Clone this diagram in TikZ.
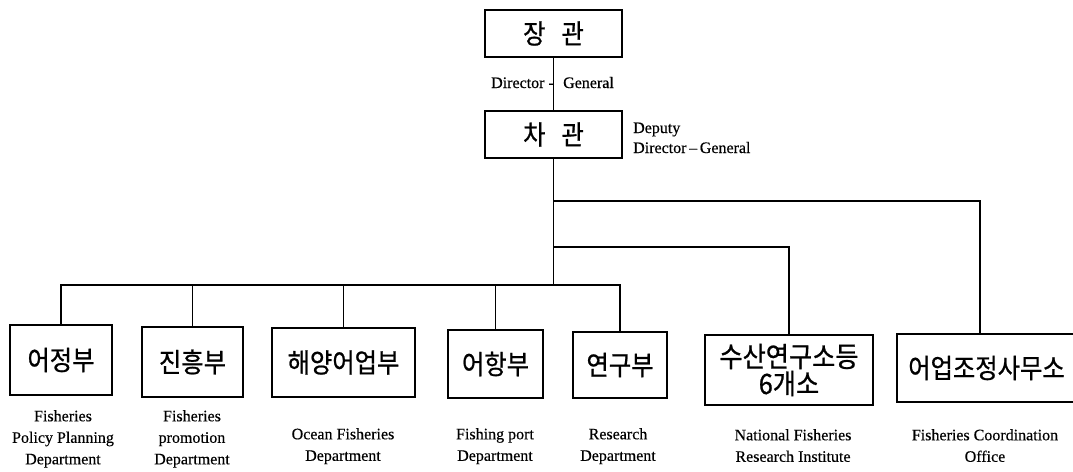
\documentclass[tikz,border=0pt]{standalone}
\usepackage{fontspec}
\setmainfont{Liberation Serif}[FakeBold=0.4]
\newfontfamily\kr[FakeStretch=0.9,FakeBold=0.8]{Noto Sans CJK KR}
\begin{document}
\begin{tikzpicture}[x=1pt,y=-1pt,
  box/.style={draw, line width=1.2pt, inner sep=0pt, align=center,
    font=\kr\fontsize{27}{28}\selectfont},
  lbl/.style={font=\fontsize{16}{21.5}\selectfont, align=center, inner sep=0pt, anchor=north},
  side/.style={font=\fontsize{16}{20}\selectfont, inner sep=0pt},
  conn/.style={line width=1.2pt}]
\useasboundingbox (0,0) rectangle (1073,471);

% top boxes
\node[box, minimum width=137pt, minimum height=47pt] (jang) at (553.5,33.5) {장\hspace{16pt}관};
\node[box, minimum width=137pt, minimum height=47pt] (cha) at (553.5,134.5) {차\hspace{16pt}관};

\node[side, anchor=base east] (dg1) at (554,88) {Director -};
\node[side, anchor=base west] (dg2) at (563,88) {General};
\node[side, anchor=base west] (dep1) at (633,133) {Deputy};
\node[side, anchor=base west] (dep2) at (633,153) {Director\,–\,General};

% department boxes
\node[box, minimum width=102pt, minimum height=70pt] (A) at (61,360) {어정부};
\node[box, minimum width=101pt, minimum height=70pt] (B) at (192.5,362) {진흥부};
\node[box, minimum width=143pt, minimum height=69pt] (C) at (343.5,362.5) {해양어업부};
\node[box, minimum width=95pt, minimum height=68pt] (D) at (495.5,364) {어항부};
\node[box, minimum width=94pt, minimum height=66pt] (E) at (620,365) {연구부};
\node[box, minimum width=168pt, minimum height=70pt, font=\kr\fontsize{28}{27}\selectfont] (F) at (789,370) {수산연구소등\\6개소};
\node[box, minimum width=183pt, minimum height=68pt] (G) at (988.5,368) {\hspace{-4pt}어업조정사무소};

% labels
\node[lbl] (la) at (63,410) {Fisheries\\Policy Planning\\Department};
\node[lbl] (lb) at (192,410) {Fisheries\\promotion\\Department};
\node[lbl] (lc) at (343,428) {Ocean Fisheries\\Department};
\node[lbl] (ld) at (495,428) {Fishing port\\Department};
\node[lbl] (le) at (618,428) {Research\\Department};
\node[lbl] (lf) at (793,429) {National Fisheries\\Research Institute};
\node[lbl] (lg) at (985,429) {Fisheries Coordination\\Office};

% junctions
\coordinate (j0) at (553.5,201);
\coordinate (j1) at (553.5,247);
\coordinate (j2) at (553.5,285);
\coordinate (gtop) at (980,334);

% connectors
\draw[conn] (jang) -- (cha);
\draw[conn] (cha.south) -- (j2);
\draw[conn] (j0) -| (gtop);
\draw[conn] (j1) -| (F.north);
\draw[conn] (A.north) |- (j2) -| (E.north);
\draw[conn] (B.north) -- (B.north |- j2);
\draw[conn] (C.north) -- (C.north |- j2);
\draw[conn] (D.north) -- (D.north |- j2);
\end{tikzpicture}
\end{document}
